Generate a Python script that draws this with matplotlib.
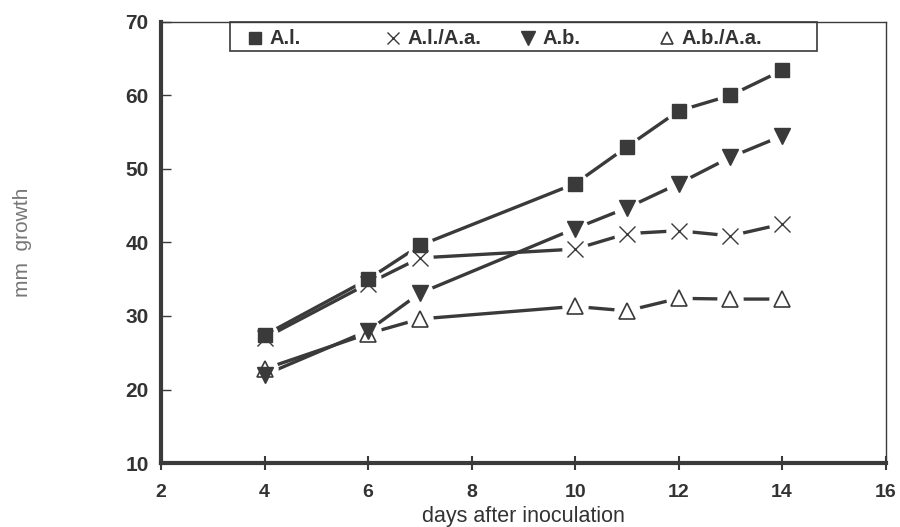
import matplotlib
matplotlib.use("Agg")
import matplotlib.pyplot as plt
from matplotlib.patches import Rectangle

# days after inoculation
days = [4, 6, 7, 10, 11, 12, 13, 14]

# mm growth per isolate
al = [27.4, 35.0, 39.6, 48.0, 53.0, 57.9, 60.0, 63.4]
al_aa = [27.0, 34.4, 37.9, 39.1, 41.2, 41.6, 40.9, 42.5]
ab = [22.0, 28.0, 33.1, 41.9, 44.7, 48.0, 51.6, 54.5]
ab_aa = [22.8, 27.6, 29.6, 31.3, 30.7, 32.4, 32.3, 32.3]

names = ["A.l.", "A.l./A.a.", "A.b.", "A.b./A.a."]
xticks = [2, 4, 6, 8, 10, 12, 14, 16]
yticks = [10, 20, 30, 40, 50, 60, 70]

plt.rcParams['font.family'] = ['Liberation Sans', 'DejaVu Sans']

dark = "#3a3a3a"
fig = plt.figure(figsize=(9, 5.27), dpi=100)
ax = fig.add_axes([0.179, 0.1214, 0.805, 0.837])

styles = [
    dict(marker="s", ms=10.5, mfc=dark, mec=dark, mew=1),
    dict(marker="x", ms=11, mfc="none", mec=dark, mew=1.0),
    dict(marker="v", ms=11.5, mfc=dark, mec=dark, mew=1),
    dict(marker="^", ms=11, mfc="none", mec=dark, mew=1.2),
]
series = [al, al_aa, ab, ab_aa]

for vals in series:
    ax.plot(days, vals, color=dark, lw=2.4, zorder=2)
for vals in series:
    # white halo so the lines break around the symbols
    ax.plot(days, vals, ls="none", marker="o", ms=19, mfc="white", mec="none", zorder=3)
for vals, st in zip(series, styles):
    ax.plot(days, vals, ls="none", zorder=4, **st)

ax.set_xlim(2, 16)
ax.set_ylim(10, 70)
ax.set_xticks(xticks)
ax.set_yticks(yticks)
ax.tick_params(axis="x", direction="inout", length=10, width=1.5, colors=dark,
               labelsize=14, pad=10)
ax.tick_params(axis="y", direction="in", length=7, width=1, colors=dark,
               labelsize=15, pad=9)
for lab in ax.get_xticklabels() + ax.get_yticklabels():
    lab.set_fontweight("bold")
    lab.set_color("#333333")

ax.spines["left"].set_linewidth(3)
ax.spines["bottom"].set_linewidth(3)
ax.spines["top"].set_linewidth(1)
ax.spines["right"].set_linewidth(1)
for s in ax.spines.values():
    s.set_color(dark)

ax.set_xlabel("days after inoculation", fontsize=15.5, color="#333333", labelpad=4)
fig.text(0.025, 0.54, "mm  growth", rotation=90, fontsize=15, color="#777777",
         ha="center", va="center")

# legend box drawn by hand so the entries sit at even spacing like the original
ax.add_patch(Rectangle((0.095, 0.934), 0.811, 0.066, transform=ax.transAxes,
                       fill=False, ec=dark, lw=1.2, zorder=5, clip_on=False))
mark_x = [0.130, 0.320, 0.506, 0.698]
for mx, st, name in zip(mark_x, styles, names):
    leg_st = dict(st, ms=st["ms"] * 0.85)
    ax.plot([mx], [0.963], ls="none", transform=ax.transAxes, clip_on=False,
            zorder=6, **leg_st)
    ax.text(mx + 0.02, 0.962, name, transform=ax.transAxes, fontsize=14.5,
            fontweight="bold", color="#333333", va="center", ha="left")

fig.savefig("out.png", dpi=100)
